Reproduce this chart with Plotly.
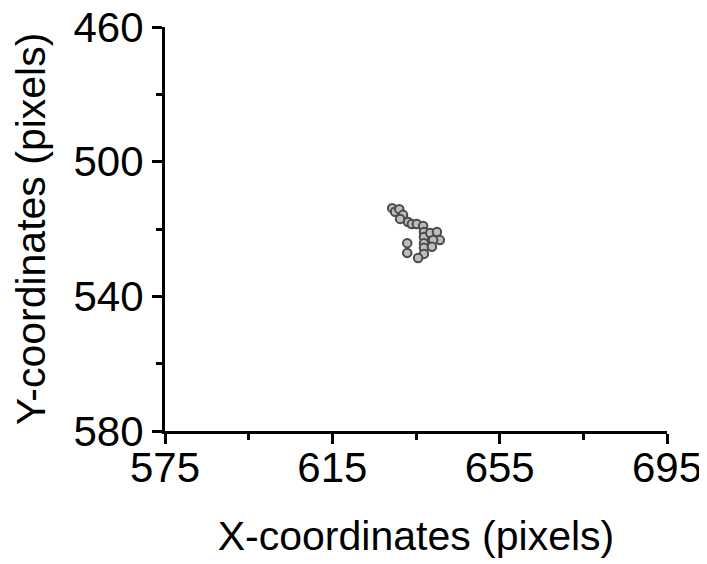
import plotly.graph_objects as go

# Particle positions (pixels)
x_coords = [629.3, 630.0, 631.0, 631.9, 631.2, 633.1, 634.0, 635.2, 636.7, 636.9, 636.9,
            636.9, 636.9, 636.9, 638.4, 640.0, 640.7, 639.1, 638.8, 632.9, 632.9, 635.5]
y_coords = [513.8, 514.9, 514.1, 515.8, 517.0, 517.9, 518.5, 518.5, 519.1, 520.9, 522.4,
            524.2, 525.6, 527.4, 521.2, 520.9, 523.3, 523.3, 525.3, 524.2, 527.1, 528.6]

x_ticks = [575, 615, 655, 695]
y_ticks = [460, 500, 540, 580]

FONT = "Liberation Sans, Arial, sans-serif"

fig = go.Figure()
fig.add_trace(go.Scatter(
    x=x_coords, y=y_coords, mode="markers",
    marker=dict(symbol="circle", size=8.5, color="#bdbdbd",
                line=dict(color="#4a4a4a", width=2)),
    showlegend=False,
))

axis_common = dict(
    showline=True, linecolor="black", linewidth=3, mirror=False,
    ticks="outside", ticklen=10, tickwidth=3, tickcolor="black",
    showgrid=False, zeroline=False, automargin=False,
    ticklabeloverflow="allow",
    tickfont=dict(family=FONT, size=42, color="black"),
)

fig.update_xaxes(
    range=[575, 695], tickmode="array", tickvals=x_ticks,
    ticktext=[str(v) for v in x_ticks],
    ticklabelstandoff=-12,
    minor=dict(ticks="outside", ticklen=6, tickwidth=3, tickcolor="black", dtick=20, tick0=575),
    title=dict(text="X-coordinates (pixels)", font=dict(family=FONT, size=41, color="black"), standoff=31),
    **axis_common,
)
fig.update_yaxes(
    range=[580, 460], tickmode="array", tickvals=y_ticks,
    ticktext=[str(v) for v in y_ticks],
    minor=dict(ticks="outside", ticklen=6, tickwidth=3, tickcolor="black", dtick=20, tick0=460),
    title=dict(text="Y-coordinates (pixels)", font=dict(family=FONT, size=41, color="black"), standoff=16),
    **axis_common,
)

fig.update_layout(
    width=707, height=564,
    margin=dict(l=157, r=48, t=19, b=141),
    paper_bgcolor="white", plot_bgcolor="white",
    font=dict(family=FONT, color="black"),
)

fig.write_html("out.html")
